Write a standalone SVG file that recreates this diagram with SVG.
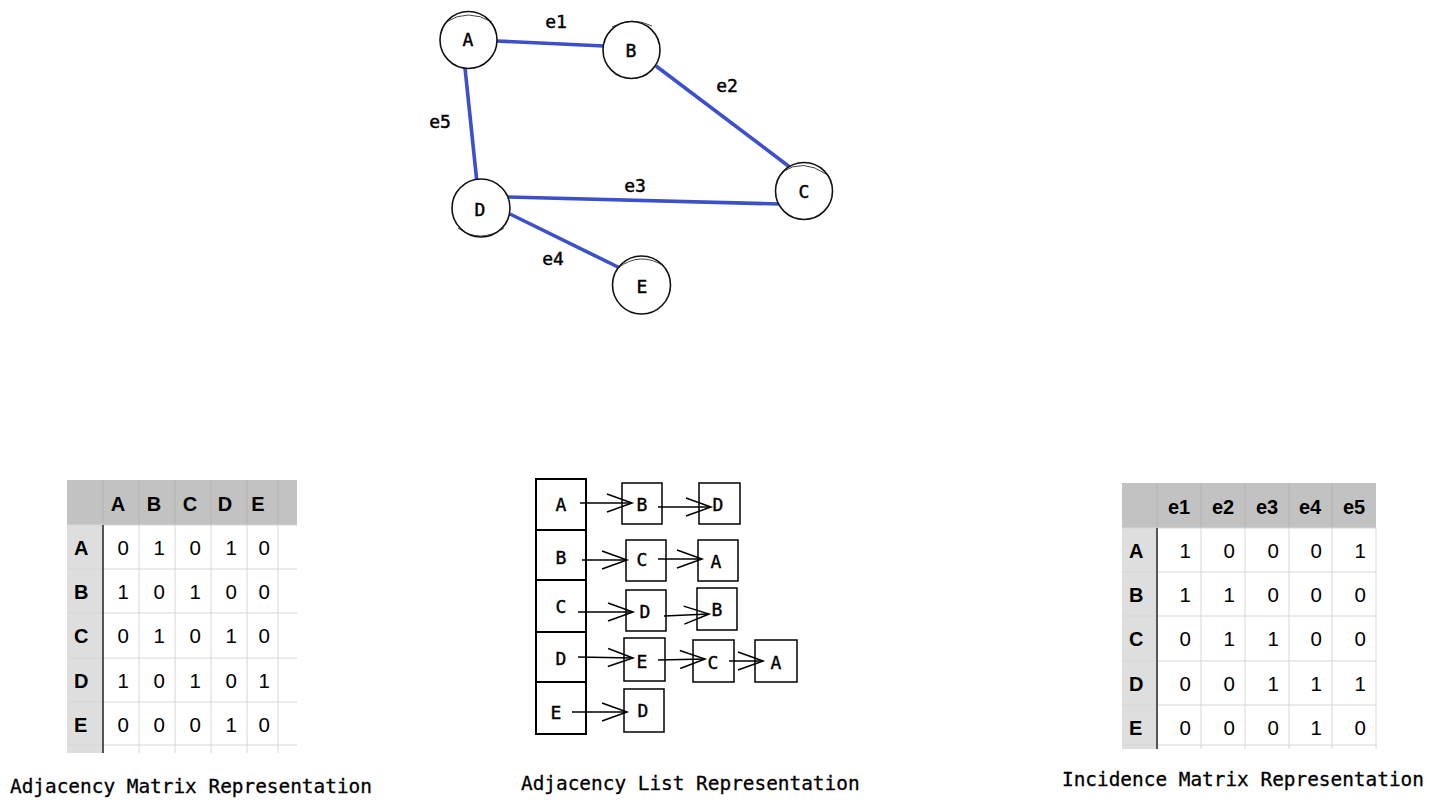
<svg xmlns="http://www.w3.org/2000/svg" width="1434" height="807" viewBox="0 0 1434 807">
<style>
.node{fill:#fff;stroke:#111;stroke-width:1.6}
.nlab{font-family:"DejaVu Sans Mono","Liberation Mono",monospace;font-size:18px;fill:#000;stroke:#000;stroke-width:0.45;text-anchor:middle}
.elab{font-family:"DejaVu Sans Mono","Liberation Mono",monospace;font-size:18px;fill:#000;stroke:#000;stroke-width:0.45;text-anchor:middle}
.edge{stroke:#3b50c9;stroke-width:3.6;stroke-linecap:butt;fill:none}
.cap{font-family:"DejaVu Sans Mono","Liberation Mono",monospace;font-size:19.4px;fill:#000;stroke:#000;stroke-width:0.3}
.hdr{fill:#c2c2c2}
.rhdr{fill:#dedede}
.grid{stroke:#d6d6d6;stroke-width:1}
.hgrid{stroke:#b2b2b2;stroke-width:1}
.thick{stroke:#555;stroke-width:2}
.th{font-family:"Liberation Sans",Arial,sans-serif;font-weight:bold;font-size:20px;fill:#000;text-anchor:middle}
.rh{font-family:"Liberation Sans",Arial,sans-serif;font-weight:bold;font-size:20px;fill:#000}
.td{font-family:"Liberation Sans",Arial,sans-serif;font-size:20.5px;fill:#000;text-anchor:end}
.box{fill:#fff;stroke:#000;stroke-width:1.5}
.lbox{fill:#fff;stroke:#000;stroke-width:2}
.llab{font-family:"DejaVu Sans Mono","Liberation Mono",monospace;font-size:18px;fill:#000;stroke:#000;stroke-width:0.4;text-anchor:middle}
.arr{stroke:#000;stroke-width:1.6;fill:none}
</style>
<defs>
<marker id="v" viewBox="-27 -11 30 22" refX="0" refY="0" markerWidth="30" markerHeight="22" orient="auto" markerUnits="userSpaceOnUse">
<path d="M-25,-9 L0,0 L-25,9" fill="none" stroke="#000" stroke-width="1.5"/>
</marker>
</defs>

<!-- Graph edges -->
<g id="edges">
<line class="edge" x1="497" y1="41" x2="604" y2="46"/>
<line class="edge" x1="656" y1="66" x2="791" y2="168"/>
<line class="edge" x1="508" y1="197" x2="779" y2="204"/>
<line class="edge" x1="510" y1="214" x2="622" y2="269"/>
<line class="edge" x1="465" y1="68" x2="477" y2="183"/>
<text class="elab" x="556" y="28">e1</text>
<text class="elab" x="727" y="92">e2</text>
<text class="elab" x="635" y="192">e3</text>
<text class="elab" x="553" y="265">e4</text>
<text class="elab" x="440" y="128">e5</text>
</g>

<!-- Graph nodes -->
<g id="node-A"><circle class="node" cx="468.5" cy="40" r="28.5"/><path d="M446,22 Q468,8 492,22" fill="none" stroke="#111" stroke-width="0.8"/><text class="nlab" x="468" y="46">A</text></g>
<g id="node-B"><circle class="node" cx="631.5" cy="50" r="28.5"/><path d="M612,27 Q632,16 652,26" fill="none" stroke="#111" stroke-width="0.8"/><text class="nlab" x="631" y="57">B</text></g>
<g id="node-C"><circle class="node" cx="804" cy="191" r="28.5"/><path d="M782,172 Q803,158 826,174" fill="none" stroke="#111" stroke-width="0.8"/><text class="nlab" x="804" y="198">C</text></g>
<g id="node-D"><circle class="node" cx="481" cy="208" r="29"/><path d="M458,228 Q480,244 504,228" fill="none" stroke="#111" stroke-width="0.8"/><text class="nlab" x="480" y="216">D</text></g>
<g id="node-E"><circle class="node" cx="641.5" cy="285" r="29"/><path d="M618,268 Q640,251 664,266" fill="none" stroke="#111" stroke-width="0.8"/><text class="nlab" x="642" y="293">E</text></g>

<!-- Adjacency Matrix -->
<g id="adjacency-matrix">
<rect class="hdr" x="67" y="480" width="230" height="45"/>
<rect class="rhdr" x="67" y="525" width="36" height="228"/>
<rect x="103" y="525" width="194" height="228" fill="#fff"/>
<g class="hgrid">
<line x1="103" y1="480" x2="103" y2="525"/><line x1="139" y1="480" x2="139" y2="525"/><line x1="175" y1="480" x2="175" y2="525"/><line x1="211" y1="480" x2="211" y2="525"/><line x1="247" y1="480" x2="247" y2="525"/><line x1="278" y1="480" x2="278" y2="525"/>
</g>
<g class="grid">
<line x1="139" y1="525" x2="139" y2="753"/><line x1="175" y1="525" x2="175" y2="753"/><line x1="211" y1="525" x2="211" y2="753"/><line x1="247" y1="525" x2="247" y2="753"/><line x1="278" y1="525" x2="278" y2="753"/>
<line x1="67" y1="525" x2="297" y2="525"/><line x1="67" y1="569" x2="297" y2="569"/><line x1="67" y1="613" x2="297" y2="613"/><line x1="67" y1="658" x2="297" y2="658"/><line x1="67" y1="702" x2="297" y2="702"/><line x1="67" y1="745" x2="297" y2="745"/>
</g>
<line class="thick" x1="103" y1="525" x2="103" y2="753"/>
<text class="th" x="118" y="511">A</text><text class="th" x="154" y="511">B</text><text class="th" x="190" y="511">C</text><text class="th" x="225" y="511">D</text><text class="th" x="258" y="511">E</text>
<text class="rh" x="74" y="555">A</text><text class="rh" x="74" y="599">B</text><text class="rh" x="74" y="643">C</text><text class="rh" x="74" y="688">D</text><text class="rh" x="74" y="732">E</text>
<text class="td" x="129" y="555">0</text><text class="td" x="165" y="555">1</text><text class="td" x="201" y="555">0</text><text class="td" x="237" y="555">1</text><text class="td" x="270" y="555">0</text>
<text class="td" x="129" y="599">1</text><text class="td" x="165" y="599">0</text><text class="td" x="201" y="599">1</text><text class="td" x="237" y="599">0</text><text class="td" x="270" y="599">0</text>
<text class="td" x="129" y="643">0</text><text class="td" x="165" y="643">1</text><text class="td" x="201" y="643">0</text><text class="td" x="237" y="643">1</text><text class="td" x="270" y="643">0</text>
<text class="td" x="129" y="688">1</text><text class="td" x="165" y="688">0</text><text class="td" x="201" y="688">1</text><text class="td" x="237" y="688">0</text><text class="td" x="270" y="688">1</text>
<text class="td" x="129" y="732">0</text><text class="td" x="165" y="732">0</text><text class="td" x="201" y="732">0</text><text class="td" x="237" y="732">1</text><text class="td" x="270" y="732">0</text>
<text class="cap" x="10" y="793">Adjacency Matrix Representation</text>
</g>

<!-- Adjacency List -->
<g id="adjacency-list">
<rect class="lbox" x="536" y="479" width="50" height="51"/>
<rect class="lbox" x="536" y="530" width="50" height="50"/>
<rect class="lbox" x="536" y="580" width="50" height="52"/>
<rect class="lbox" x="536" y="632" width="50" height="50"/>
<rect class="lbox" x="536" y="682" width="50" height="52"/>
<text class="llab" x="561" y="511">A</text>
<text class="llab" x="561" y="564">B</text>
<text class="llab" x="561" y="613">C</text>
<text class="llab" x="561" y="665">D</text>
<text class="llab" x="556" y="719">E</text>

<rect class="box" x="622" y="483" width="40" height="41"/><text class="llab" x="642" y="511">B</text>
<rect class="box" x="699" y="483" width="41" height="41"/><text class="llab" x="718" y="511">D</text>
<rect class="box" x="626" y="540" width="40" height="41"/><text class="llab" x="642" y="566">C</text>
<rect class="box" x="698" y="540" width="40" height="41"/><text class="llab" x="716" y="568">A</text>
<rect class="box" x="626" y="590" width="40" height="41"/><text class="llab" x="645" y="618">D</text>
<rect class="box" x="697" y="588" width="40" height="42"/><text class="llab" x="717" y="616">B</text>
<rect class="box" x="624" y="638" width="41" height="43"/><text class="llab" x="642" y="668">E</text>
<rect class="box" x="693" y="640" width="41" height="42"/><text class="llab" x="713" y="669">C</text>
<rect class="box" x="755" y="640" width="42" height="42"/><text class="llab" x="776" y="669">A</text>
<rect class="box" x="624" y="689" width="40" height="43"/><text class="llab" x="643" y="717">D</text>
</g>
<g id="list-connectors">
<line class="arr" x1="580" y1="503" x2="632" y2="503" marker-end="url(#v)"/>
<line class="arr" x1="658" y1="507" x2="711" y2="507" marker-end="url(#v)"/>
<line class="arr" x1="582" y1="560" x2="627" y2="560" marker-end="url(#v)"/>
<line class="arr" x1="658" y1="559" x2="702" y2="559" marker-end="url(#v)"/>
<line class="arr" x1="578" y1="612" x2="633" y2="612" marker-end="url(#v)"/>
<line class="arr" x1="664" y1="616" x2="709" y2="614" marker-end="url(#v)"/>
<line class="arr" x1="578" y1="657" x2="633" y2="658" marker-end="url(#v)"/>
<line class="arr" x1="658" y1="660" x2="705" y2="659" marker-end="url(#v)"/>
<line class="arr" x1="729" y1="661" x2="763" y2="661" marker-end="url(#v)"/>
<line class="arr" x1="572" y1="712" x2="627" y2="712" marker-end="url(#v)"/>
</g>
<text class="cap" x="521" y="790">Adjacency List Representation</text>

<!-- Incidence Matrix -->
<g id="incidence-matrix">
<rect class="hdr" x="1122" y="483" width="254" height="45"/>
<rect class="rhdr" x="1122" y="528" width="35" height="221"/>
<rect x="1157" y="528" width="219" height="221" fill="#fff"/>
<g class="hgrid">
<line x1="1157" y1="483" x2="1157" y2="528"/><line x1="1201" y1="483" x2="1201" y2="528"/><line x1="1245" y1="483" x2="1245" y2="528"/><line x1="1289" y1="483" x2="1289" y2="528"/><line x1="1332" y1="483" x2="1332" y2="528"/>
</g>
<g class="grid">
<line x1="1201" y1="528" x2="1201" y2="749"/><line x1="1245" y1="528" x2="1245" y2="749"/><line x1="1289" y1="528" x2="1289" y2="749"/><line x1="1332" y1="528" x2="1332" y2="749"/><line x1="1376" y1="528" x2="1376" y2="749"/>
<line x1="1122" y1="528" x2="1376" y2="528"/><line x1="1122" y1="572" x2="1376" y2="572"/><line x1="1122" y1="616" x2="1376" y2="616"/><line x1="1122" y1="661" x2="1376" y2="661"/><line x1="1122" y1="705" x2="1376" y2="705"/><line x1="1122" y1="745" x2="1376" y2="745"/>
</g>
<line class="thick" x1="1157" y1="528" x2="1157" y2="749"/>
<text class="th" x="1179" y="514">e1</text><text class="th" x="1223" y="514">e2</text><text class="th" x="1267" y="514">e3</text><text class="th" x="1310" y="514">e4</text><text class="th" x="1354" y="514">e5</text>
<text class="rh" x="1129" y="558">A</text><text class="rh" x="1129" y="602">B</text><text class="rh" x="1129" y="646">C</text><text class="rh" x="1129" y="691">D</text><text class="rh" x="1129" y="735">E</text>
<text class="td" x="1191" y="558">1</text><text class="td" x="1235" y="558">0</text><text class="td" x="1279" y="558">0</text><text class="td" x="1322" y="558">0</text><text class="td" x="1366" y="558">1</text>
<text class="td" x="1191" y="602">1</text><text class="td" x="1235" y="602">1</text><text class="td" x="1279" y="602">0</text><text class="td" x="1322" y="602">0</text><text class="td" x="1366" y="602">0</text>
<text class="td" x="1191" y="646">0</text><text class="td" x="1235" y="646">1</text><text class="td" x="1279" y="646">1</text><text class="td" x="1322" y="646">0</text><text class="td" x="1366" y="646">0</text>
<text class="td" x="1191" y="691">0</text><text class="td" x="1235" y="691">0</text><text class="td" x="1279" y="691">1</text><text class="td" x="1322" y="691">1</text><text class="td" x="1366" y="691">1</text>
<text class="td" x="1191" y="735">0</text><text class="td" x="1235" y="735">0</text><text class="td" x="1279" y="735">0</text><text class="td" x="1322" y="735">1</text><text class="td" x="1366" y="735">0</text>
<text class="cap" x="1062" y="786">Incidence Matrix Representation</text>
</g>
</svg>
